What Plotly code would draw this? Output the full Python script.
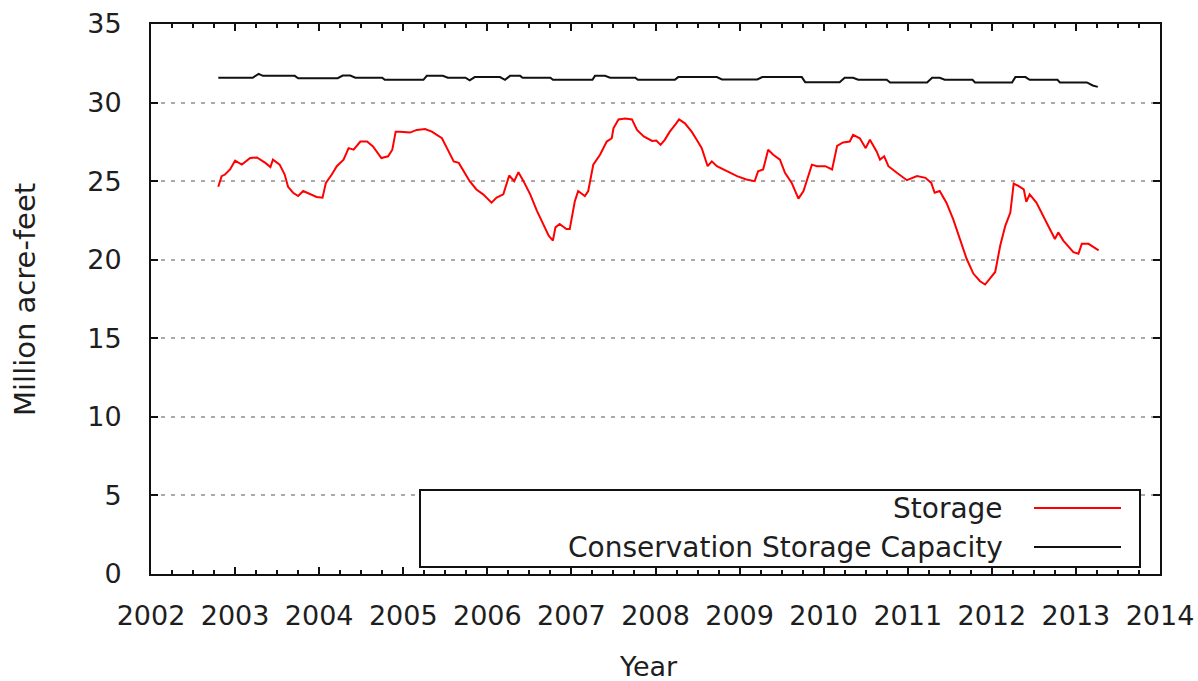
import plotly.graph_objects as go

# ---- data ----
storage_year = [2002.80, 2002.84, 2002.88, 2002.94, 2003.00, 2003.08, 2003.18, 2003.26, 2003.36, 2003.42,
                2003.45, 2003.53, 2003.59, 2003.63, 2003.69, 2003.75, 2003.81, 2003.89, 2003.97, 2004.04,
                2004.08, 2004.15, 2004.21, 2004.29, 2004.35, 2004.41, 2004.49, 2004.57, 2004.64, 2004.74,
                2004.82, 2004.87, 2004.91, 2004.96, 2005.08, 2005.16, 2005.26, 2005.34, 2005.46, 2005.52,
                2005.60, 2005.66, 2005.79, 2005.87, 2005.95, 2006.05, 2006.11, 2006.19, 2006.26, 2006.32,
                2006.37, 2006.43, 2006.51, 2006.59, 2006.67, 2006.73, 2006.78, 2006.81, 2006.86, 2006.94,
                2006.98, 2007.04, 2007.08, 2007.16, 2007.20, 2007.26, 2007.34, 2007.42, 2007.48, 2007.50,
                2007.56, 2007.64, 2007.72, 2007.78, 2007.86, 2007.96, 2008.01, 2008.06, 2008.11, 2008.17,
                2008.24, 2008.28, 2008.35, 2008.43, 2008.49, 2008.55, 2008.62, 2008.67, 2008.73, 2008.85,
                2008.97, 2009.08, 2009.18, 2009.22, 2009.28, 2009.34, 2009.40, 2009.48, 2009.54, 2009.62,
                2009.70, 2009.76, 2009.86, 2009.92, 2010.02, 2010.10, 2010.16, 2010.23, 2010.31, 2010.35,
                2010.43, 2010.50, 2010.55, 2010.63, 2010.67, 2010.72, 2010.77, 2010.87, 2010.99, 2011.11,
                2011.21, 2011.28, 2011.32, 2011.38, 2011.46, 2011.54, 2011.62, 2011.70, 2011.78, 2011.86,
                2011.92, 2011.98, 2012.04, 2012.10, 2012.16, 2012.22, 2012.26, 2012.32, 2012.38, 2012.41,
                2012.45, 2012.53, 2012.63, 2012.69, 2012.75, 2012.79, 2012.85, 2012.97, 2013.03, 2013.07,
                2013.15, 2013.21, 2013.27]
storage_maf = [24.64, 25.32, 25.42, 25.74, 26.30, 26.05, 26.47, 26.51, 26.16, 25.90,
               26.37, 26.05, 25.42, 24.64, 24.26, 24.05, 24.37, 24.16, 23.99, 23.95,
               24.89, 25.42, 25.95, 26.37, 27.10, 27.00, 27.52, 27.52, 27.21, 26.47,
               26.58, 27.00, 28.15, 28.15, 28.09, 28.26, 28.32, 28.15, 27.73, 27.10,
               26.26, 26.16, 25.00, 24.47, 24.16, 23.63, 23.95, 24.16, 25.36, 25.00,
               25.57, 25.00, 24.16, 23.11, 22.16, 21.53, 21.22, 22.06, 22.27, 21.95,
               21.95, 23.70, 24.37, 24.05, 24.37, 26.05, 26.68, 27.52, 27.73, 28.36,
               28.93, 28.99, 28.93, 28.26, 27.84, 27.56, 27.58, 27.31, 27.63, 28.15,
               28.63, 28.93, 28.68, 28.15, 27.63, 27.10, 25.95, 26.26, 25.95, 25.63,
               25.32, 25.11, 25.00, 25.63, 25.74, 27.00, 26.68, 26.37, 25.53, 24.89,
               23.89, 24.37, 26.05, 25.95, 25.95, 25.74, 27.25, 27.46, 27.52, 27.94,
               27.73, 27.10, 27.63, 26.89, 26.37, 26.58, 25.95, 25.53, 25.06, 25.32,
               25.21, 24.89, 24.26, 24.37, 23.63, 22.58, 21.32, 20.06, 19.12, 18.63,
               18.42, 18.80, 19.22, 20.90, 22.16, 23.00, 24.85, 24.68, 24.47, 23.68,
               24.16, 23.63, 22.58, 21.95, 21.32, 21.74, 21.22, 20.48, 20.38, 21.01,
               21.01, 20.80, 20.59]

capacity_year = [2002.80, 2003.21, 2003.28, 2003.33, 2003.71, 2003.75, 2004.22, 2004.28, 2004.37, 2004.43,
                 2004.75, 2004.78, 2005.24, 2005.28, 2005.47, 2005.53, 2005.74, 2005.79, 2005.85, 2006.15,
                 2006.21, 2006.27, 2006.39, 2006.42, 2006.75, 2006.78, 2007.25, 2007.28, 2007.40, 2007.46,
                 2007.76, 2007.79, 2008.23, 2008.27, 2008.73, 2008.79, 2009.21, 2009.27, 2009.74, 2009.78,
                 2010.19, 2010.25, 2010.35, 2010.41, 2010.75, 2010.79, 2011.23, 2011.29, 2011.38, 2011.44,
                 2011.77, 2011.80, 2012.24, 2012.28, 2012.40, 2012.45, 2012.78, 2012.81, 2013.13, 2013.20,
                 2013.26]
capacity_maf = [31.58, 31.58, 31.83, 31.70, 31.70, 31.55, 31.55, 31.72, 31.72, 31.58,
                31.58, 31.45, 31.45, 31.70, 31.70, 31.58, 31.58, 31.41, 31.62, 31.62,
                31.45, 31.70, 31.70, 31.58, 31.58, 31.45, 31.45, 31.70, 31.70, 31.58,
                31.58, 31.45, 31.45, 31.62, 31.62, 31.47, 31.47, 31.62, 31.62, 31.30,
                31.30, 31.58, 31.58, 31.45, 31.45, 31.28, 31.28, 31.58, 31.58, 31.45,
                31.45, 31.28, 31.28, 31.62, 31.62, 31.45, 31.45, 31.28, 31.28, 31.09,
                31.00]

x_ticks = list(range(2002, 2015))
y_ticks = list(range(0, 36, 5))
series_names = ["Storage", "Conservation Storage Capacity"]
series_colors = ["#ff0000", "#111111"]

# ---- layout geometry (pixels) ----
W, H = 1198, 681
L, R, T, B = 151, 1160, 24, 574
FONT = "DejaVu Sans"
TXT = "#1e1e1e"


def px_x(p):
    return (p - L) / (R - L)


def px_y(p):
    return (B - p) / (B - T)


fig = go.Figure()
fig.add_trace(go.Scatter(x=storage_year, y=storage_maf, mode="lines", name=series_names[0],
                         line=dict(color=series_colors[0], width=2), showlegend=False))
fig.add_trace(go.Scatter(x=capacity_year, y=capacity_maf, mode="lines", name=series_names[1],
                         line=dict(color=series_colors[1], width=2), showlegend=False))

axis_common = dict(showline=True, linecolor="#111111", linewidth=2, mirror="ticks",
                   ticks="inside", tickcolor="#111111", tickwidth=1.5, ticklen=7,
                   zeroline=False, automargin=False,
                   tickfont=dict(family=FONT, size=27, color=TXT))

fig.update_xaxes(range=[2002, 2014], tickvals=x_ticks, showgrid=False,
                 minor=dict(dtick=0.25, ticks="inside", ticklen=4, tickcolor="#111111", tickwidth=1.5,
                            showgrid=False),
                 ticklabelstandoff=17, **axis_common)
fig.update_yaxes(range=[0, 35], tickvals=y_ticks, showgrid=True, gridcolor="#aaaaaa", gridwidth=2,
                 griddash="4px,6px", ticklabelstandoff=22, **axis_common)

shapes = [
    dict(type="rect", xref="paper", yref="paper", x0=px_x(420), x1=px_x(1140), y0=px_y(567), y1=px_y(490),
         line=dict(color="#111111", width=2), fillcolor="white", layer="above"),
    dict(type="line", xref="paper", yref="paper", x0=px_x(1034), x1=px_x(1121), y0=px_y(508), y1=px_y(508),
         line=dict(color=series_colors[0], width=2), layer="above"),
    dict(type="line", xref="paper", yref="paper", x0=px_x(1034), x1=px_x(1121), y0=px_y(547), y1=px_y(547),
         line=dict(color=series_colors[1], width=2), layer="above"),
]

annotations = [
    dict(text=series_names[0], xref="paper", yref="paper", x=px_x(1005), y=px_y(508), xanchor="right",
         yanchor="middle", showarrow=False, font=dict(family=FONT, size=28, color=TXT)),
    dict(text=series_names[1], xref="paper", yref="paper", x=px_x(1005), y=px_y(547), xanchor="right",
         yanchor="middle", showarrow=False, font=dict(family=FONT, size=28, color=TXT)),
    dict(text="Million acre-feet", xref="paper", yref="paper", x=px_x(25), y=px_y(300), xanchor="center",
         yanchor="middle", textangle=-90, showarrow=False, font=dict(family=FONT, size=29, color=TXT)),
    dict(text="Year", xref="paper", yref="paper", x=px_x(648), y=px_y(666), xanchor="center",
         yanchor="middle", showarrow=False, font=dict(family=FONT, size=27, color=TXT)),
]

fig.update_layout(width=W, height=H, margin=dict(l=L, r=W - R, t=T, b=H - B, pad=0, autoexpand=False),
                  paper_bgcolor="white", plot_bgcolor="white", showlegend=False,
                  shapes=shapes, annotations=annotations)

fig.write_html("out.html", config={"displayModeBar": False},
               post_script="document.body.style.margin='0px';document.body.style.overflow='hidden';")
